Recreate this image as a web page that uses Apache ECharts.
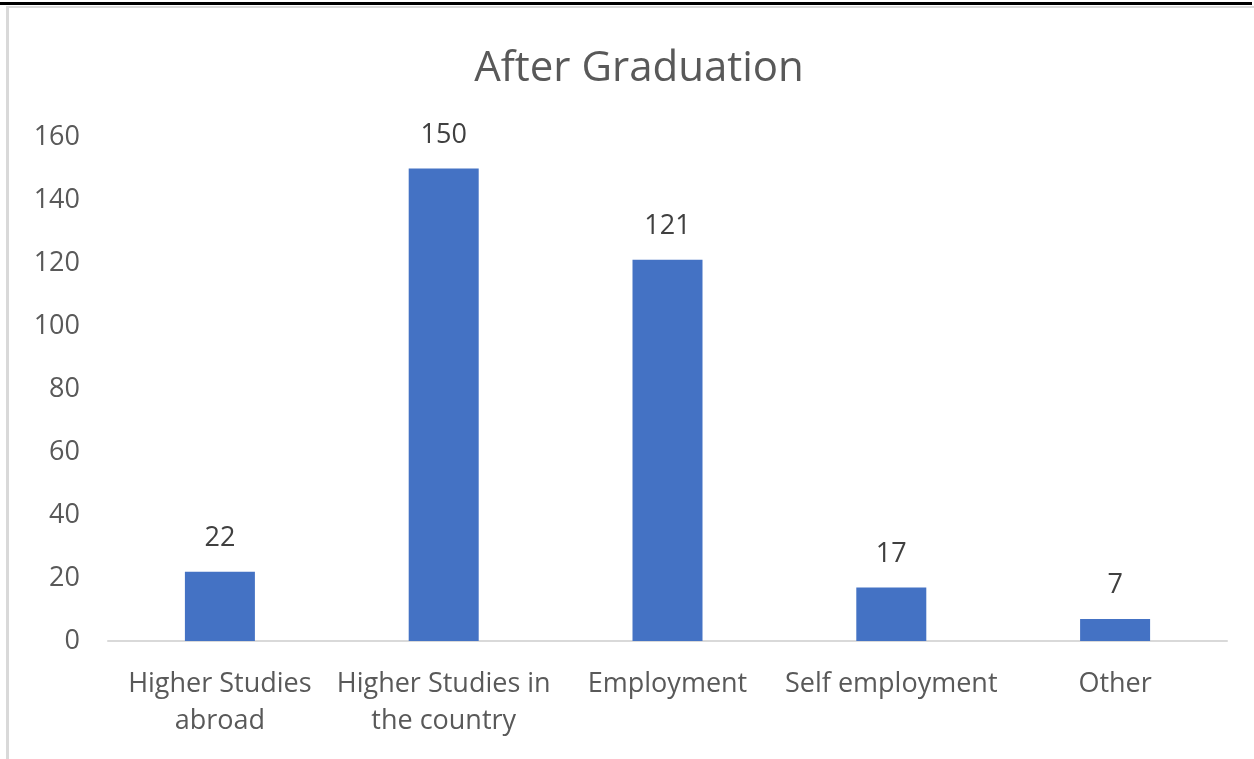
<!DOCTYPE html>
<html>
<head>
<meta charset="utf-8">
<script src="https://cdn.jsdelivr.net/npm/echarts@6/dist/echarts.min.js"></script>
<style>
  html, body { margin: 0; padding: 0; background: #fff; }
  #chart { width: 1254px; height: 759px; }
</style>
</head>
<body>
<div id="chart"></div>
<script>
// data
var categories = ['Higher Studies\nabroad', 'Higher Studies in\nthe country', 'Employment', 'Self employment', 'Other'];
var counts = [22, 150, 121, 17, 7];
var yTicks = { min: 0, max: 160, interval: 20 };

var font = '"Open Sans", "Liberation Sans", sans-serif';

var myChart = echarts.init(document.getElementById('chart'));
myChart.setOption({
    backgroundColor: '#ffffff',
    animation: false,
    title: {
        text: 'After Graduation',
        left: 634,
        top: 43,
        textAlign: 'center',
        textStyle: {
            fontFamily: font,
            fontSize: 42,
            fontWeight: 'normal',
            color: '#595959'
        }
    },
    grid: { left: 108, right: 27, top: 137, bottom: 118 },
    xAxis: {
        type: 'category',
        data: categories,
        axisLine: { lineStyle: { color: '#d9d9d9', width: 2 } },
        axisTick: { show: false },
        axisLabel: {
            interval: 0,
            fontFamily: font,
            fontSize: 27,
            color: '#595959',
            lineHeight: 37,
            margin: 25
        }
    },
    yAxis: {
        type: 'value',
        min: yTicks.min,
        max: yTicks.max,
        interval: yTicks.interval,
        splitLine: { show: false },
        axisLine: { show: false },
        axisTick: { show: false },
        axisLabel: {
            fontFamily: font,
            fontSize: 27,
            color: '#595959',
            margin: 28
        }
    },
    series: [
        {
            type: 'bar',
            data: counts,
            barWidth: 70,
            itemStyle: { color: '#4472c4' },
            label: {
                show: true,
                position: 'top',
                distance: 20,
                fontFamily: font,
                fontSize: 27,
                color: '#404040'
            }
        }
    ],
    graphic: [
        // frame lines around the pasted chart
        { type: 'rect', shape: { x: 0, y: 2, width: 1252, height: 3 }, style: { fill: '#000' } },
        { type: 'rect', shape: { x: 8, y: 6, width: 1246, height: 2 }, style: { fill: '#d9d9d9' } },
        { type: 'rect', shape: { x: 6, y: 6, width: 3, height: 753 }, style: { fill: '#d9d9d9' } }
    ]
});
</script>
</body>
</html>
